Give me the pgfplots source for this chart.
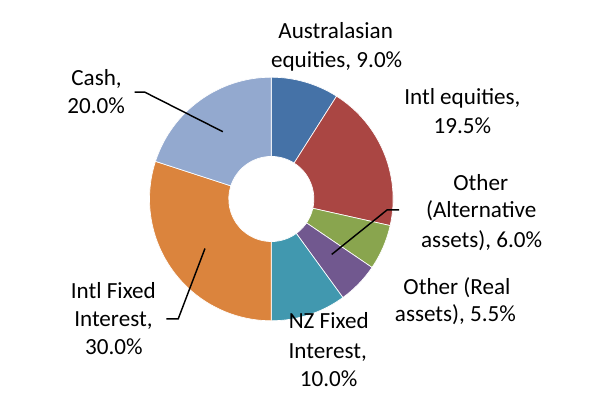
\documentclass[border=0pt]{standalone}
\usepackage{pgfplots}
\usepackage{pgfplotstable}
\pgfplotsset{compat=1.18}
\usepackage{fontspec}
\setmainfont{Carlito}
\definecolor{c0}{HTML}{4572A7}
\definecolor{c1}{HTML}{AA4643}
\definecolor{c2}{HTML}{89A54E}
\definecolor{c3}{HTML}{71588F}
\definecolor{c4}{HTML}{4198AF}
\definecolor{c5}{HTML}{DB843D}
\definecolor{c6}{HTML}{93A9CF}
\pgfplotstableread{
label value
Aus 9.0
IntlEq 19.5
Alt 6.0
Real 5.5
NZ 10.0
IntlFI 30.0
Cash 20.0
}\alloc
\begin{document}
\def\cum{90}
\pgfplotsforeachungrouped \i in {0,...,6}{%
  \pgfplotstablegetelem{\i}{value}\of\alloc
  \pgfmathsetmacro\endang{\cum-3.6*\pgfplotsretval}%
  \expandafter\xdef\csname sa\i\endcsname{\cum}%
  \expandafter\xdef\csname ea\i\endcsname{\endang}%
  \xdef\cum{\endang}%
}
\begin{tikzpicture}[lbl/.style={anchor=base,inner sep=0pt,font=\fontsize{17.5pt}{21pt}\selectfont}]
\begin{axis}[
  scale only axis, width=450pt, height=306.75pt,
  xmin=0, xmax=600, ymin=0, ymax=409,
  hide axis, clip=false]
\path (axis cs:0,0) rectangle (axis cs:600,409);
\pgfplotsinvokeforeach{0,...,6}{%
  \fill[fill=c#1, draw=white, line width=0.5pt]
    ([shift={(\csname sa#1\endcsname:92.25pt)}]axis cs:268,208)
    arc[start angle=\csname sa#1\endcsname, end angle=\csname ea#1\endcsname, radius=92.25pt]
    -- ([shift={(\csname ea#1\endcsname:32.25pt)}]axis cs:268,208)
    arc[start angle=\csname ea#1\endcsname, end angle=\csname sa#1\endcsname, radius=32.25pt]
    -- cycle;
}
% leader lines
\draw[black, line width=1.1pt] (axis cs:130,316) -- (axis cs:140,316) -- (axis cs:219,276);
\draw[black, line width=1.1pt] (axis cs:162,87) -- (axis cs:174,87) -- (axis cs:201,158);
\draw[black, line width=1.1pt] (axis cs:397,197) -- (axis cs:385,197) -- (axis cs:329,152);
% labels
\node[lbl] at (axis cs:333,370) {Australasian};
\node[lbl] at (axis cs:334,341) {equities, 9.0\%};
\node[lbl] at (axis cs:461,303) {Intl equities,};
\node[lbl] at (axis cs:461,274) {19.5\%};
\node[lbl] at (axis cs:479.5,217) {Other};
\node[lbl] at (axis cs:480,189) {(Alternative};
\node[lbl] at (axis cs:480.5,159) {assets), 6.0\%};
\node[lbl] at (axis cs:455.5,112) {Other (Real};
\node[lbl] at (axis cs:454,84) {assets), 5.5\%};
\node[lbl] at (axis cs:326,77) {NZ Fixed};
\node[lbl] at (axis cs:325,47) {Interest,};
\node[lbl] at (axis cs:326,19) {10.0\%};
\node[lbl] at (axis cs:108.5,107) {Intl Fixed};
\node[lbl] at (axis cs:108.5,79) {Interest,};
\node[lbl] at (axis cs:109,51) {30.0\%};
\node[lbl] at (axis cs:91.5,323) {Cash,};
\node[lbl] at (axis cs:91,294) {20.0\%};
\end{axis}
\end{tikzpicture}
\end{document}
